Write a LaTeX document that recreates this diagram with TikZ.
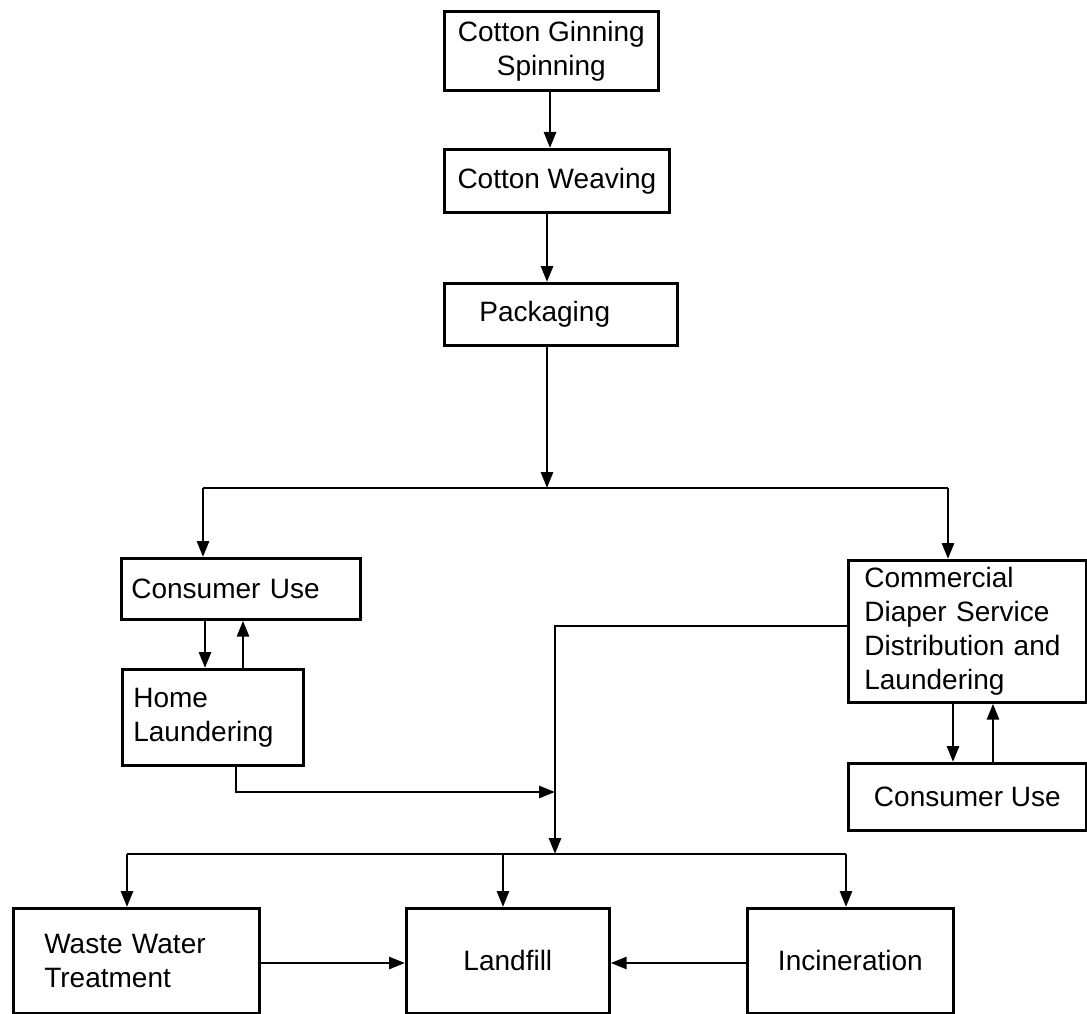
\documentclass[tikz,border=0pt]{standalone}
\usepackage{fontspec}
\setmainfont{Liberation Sans}
\usetikzlibrary{arrows.meta}
\begin{document}
\begin{tikzpicture}[x=1pt,y=-1pt,
  box/.style={draw, line width=2.7pt, rectangle, inner sep=0pt, anchor=north west,
              font=\fontsize{28}{34}\selectfont},
  flow/.style={line width=2.8pt},
  arr/.style={flow, -{Triangle[length=16pt,width=12pt]}},
]
\useasboundingbox (0,0) rectangle (1087,1014);

% process boxes
\node[box, minimum width=214pt, minimum height=79pt, align=center] (gin) at (443,10) {Cotton Ginning\\Spinning};
\node[box, minimum width=225pt, minimum height=63pt] (weave) at (443,148) {Cotton Weaving};
\node[box, minimum width=233pt, minimum height=62pt, align=left, text width=163pt] (pack) at (443,282) {Packaging};
\node[box, minimum width=239pt, minimum height=61pt, align=left, text width=219pt] (cu1) at (120,557) {Consumer Use};
\node[box, minimum width=181pt, minimum height=96pt, align=left, text width=159pt] (home) at (121,668) {Home\\Laundering};
\node[box, minimum width=238pt, minimum height=142pt, align=left, text width=206pt] (comm) at (847,559) {Commercial\\Diaper Service\\Distribution and\\Laundering};
\node[box, minimum width=238pt, minimum height=67pt] (cu2) at (847,762) {Consumer Use};
\node[box, minimum width=246pt, minimum height=105pt, align=left, text width=184pt] (wwt) at (12,907) {Waste Water\\Treatment};
\node[box, minimum width=203pt, minimum height=105pt] (land) at (405,907) {Landfill};
\node[box, minimum width=206pt, minimum height=105pt] (inc) at (746,907) {Incineration};

% connector columns, rows and junctions
\coordinate (xa) at (550,0);
\coordinate (xb) at (547,0);
\coordinate (fork) at (547,488);
\coordinate (forkL) at (203,488);
\coordinate (forkR) at (948,488);
\coordinate (xd) at (205,0);
\coordinate (xu) at (243,0);
\coordinate (xd2) at (953,0);
\coordinate (xu2) at (993,0);
\coordinate (bend) at (555,626);
\coordinate (hl) at (236,792);
\coordinate (hr) at (555,792);
\coordinate (low) at (555,854);
\coordinate (lowL) at (127,854);
\coordinate (lowM) at (503,854);
\coordinate (lowR) at (846,854);
\coordinate (ylow) at (0,963);

% production chain
\draw[arr] (gin.south -| xa) -- (weave.north -| xa);
\draw[arr] (weave.south -| xb) -- (pack.north -| xb);
\draw[arr] (pack.south -| fork) -- (fork);
\draw[flow] (forkL) -- (forkR);
\draw[arr] (forkL) -- (cu1.north -| forkL);
\draw[arr] (forkR) -- (comm.north -| forkR);

% use and laundering loops
\draw[arr] (cu1.south -| xd) -- (home.north -| xd);
\draw[arr] (home.north -| xu) -- (cu1.south -| xu);
\draw[arr] (comm.south -| xd2) -- (cu2.north -| xd2);
\draw[arr] (cu2.north -| xu2) -- (comm.south -| xu2);

% disposal
\draw[arr] (comm.west |- bend) -- (bend) -- (low);
\draw[arr] (home.south -| hl) -- (hl) -- (hr);
\draw[flow] (lowL) -- (lowR);
\draw[arr] (lowL) -- (wwt.north -| lowL);
\draw[arr] (lowM) -- (land.north -| lowM);
\draw[arr] (lowR) -- (inc.north -| lowR);
\draw[arr] (wwt.east |- ylow) -- (land.west |- ylow);
\draw[arr] (inc.west |- ylow) -- (land.east |- ylow);
\end{tikzpicture}
\end{document}
